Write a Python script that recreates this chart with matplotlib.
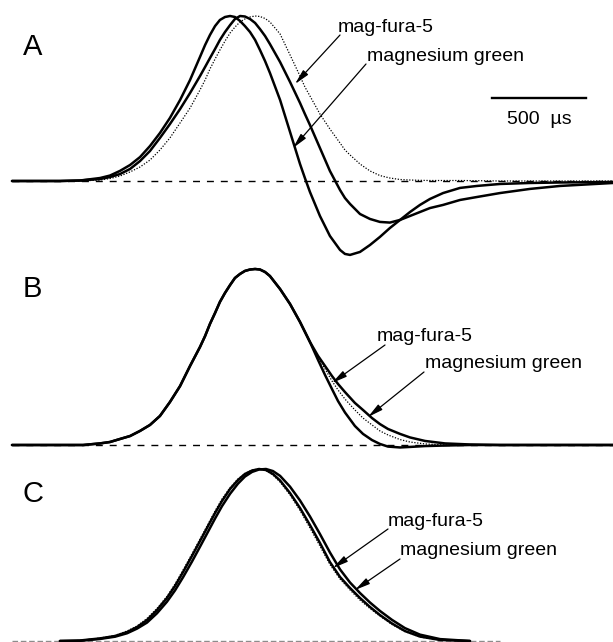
import matplotlib
matplotlib.use("Agg")
import matplotlib.pyplot as plt

plt.rcParams["font.family"] = ["Liberation Sans", "DejaVu Sans"]

# time in microseconds, signals normalised to their peak (baseline = 0)
t_a = [0, 255, 362, 468, 521, 574, 628, 681, 734, 787, 840, 894, 947, 1000,
       1027, 1053, 1080, 1106, 1133, 1160, 1186, 1213, 1239, 1266, 1293, 1319,
       1346, 1372, 1426, 1479, 1532, 1558, 1585, 1638, 1691, 1745, 1771, 1798,
       1851, 1904, 1957, 2010, 2064, 2117, 2170, 2223, 2293, 2383, 2473, 2596,
       2755, 2915, 3197]
a_early = [0, 0, .003, .018, .033, .061, .097, .145, .212, .291, .382, .491,
           .612, .752, .824, .885, .939, .976, .994, 1.0, .994, .970, .939,
           .903, .855, .794, .727, .655, .491, .297, .103, .018, -.067, -.212,
           -.333, -.418, -.442, -.448, -.430, -.388, -.339, -.285, -.236,
           -.188, -.145, -.109, -.073, -.042, -.030, -.018, -.012, -.009, -.006]
a_mid = [0, 0, .003, .012, .024, .042, .073, .121, .182, .261, .345, .436,
         .533, .636, .691, .745, .800, .855, .903, .945, .982, 1.0, .997, .982,
         .958, .921, .879, .830, .721, .600, .473, .406, .339, .200, .061,
         -.055, -.103, -.139, -.200, -.230, -.248, -.252, -.236, -.212, -.188,
         -.164, -.145, -.115, -.097, -.073, -.048, -.030, -.012]
a_dot = [0, 0, 0, .006, .015, .030, .055, .085, .127, .188, .261, .352, .442,
         .552, .612, .679, .739, .794, .848, .897, .933, .964, .982, .994, 1.0,
         .997, .985, .964, .891, .764, .636, .570, .515, .406, .315, .230,
         .188, .158, .103, .061, .033, .018, .009, .006, .004, .003, .003,
         .003, .002, 0, 0, 0, 0]

t_b_rise = [0, 255, 378, 468, 521, 574, 628, 681, 734, 787, 840, 894, 947,
            1000, 1027, 1053, 1080, 1106, 1133, 1160, 1186, 1213, 1239, 1266,
            1293, 1319, 1346, 1372, 1426, 1479, 1532, 1585]
b_rise = [0, 0, 0, .009, .017, .034, .051, .080, .114, .165, .244, .335, .449,
          .557, .619, .688, .750, .813, .864, .909, .949, .972, .989, .997,
          1.0, .997, .983, .960, .886, .801, .699, .585]
t_b_fall = [1628, 1665, 1702, 1734, 1771, 1824, 1867, 1915, 1957, 2000, 2064,
            2117, 2197, 2303, 2436, 2596, 3197]
b_inner = [.483, .398, .318, .250, .185, .108, .063, .028, .006, -.009, -.014,
           -.011, -.006, -.003, 0, 0, 0]
b_outer = [.506, .449, .392, .347, .301, .239, .199, .153, .119, .091, .063,
           .043, .023, .009, .003, 0, 0]
b_dot = [.494, .432, .364, .313, .261, .199, .153, .114, .080, .057, .031,
         .017, .006, 0, 0, 0, 0]

t_c = [255, 362, 468, 548, 612, 665, 718, 771, 824, 867, 910, 957, 1000, 1043,
       1080, 1117, 1160, 1202, 1239, 1277, 1314, 1351, 1388, 1426, 1479, 1532,
       1585, 1638, 1691, 1745, 1798, 1851, 1904, 1957, 2021, 2090, 2170, 2277,
       2436]
c_inner = [0, .003, .015, .029, .052, .081, .122, .180, .250, .320, .401, .494,
           .581, .669, .744, .814, .884, .936, .971, .991, 1.0, .994, .971,
           .933, .860, .773, .674, .570, .459, .372, .308, .250, .198, .151,
           .102, .058, .026, .006, 0]
c_outer = [0, .001, .012, .025, .045, .072, .107, .161, .228, .294, .371, .461,
           .548, .636, .712, .784, .856, .915, .956, .983, .997, 1.0, .988,
           .960, .897, .817, .724, .622, .515, .416, .340, .279, .224, .175,
           .123, .075, .037, .011, 0]
c_dot = [0, .003, .017, .032, .058, .087, .131, .189, .259, .331, .413, .506,
         .593, .680, .756, .826, .892, .942, .974, .994, 1.0, .991, .965, .924,
         .849, .759, .657, .552, .445, .360, .297, .238, .189, .145, .096, .055,
         .023, .006, 0]

scale_us = 500
labels = ["mag-fura-5", "magnesium green"]

W, H = 613, 642
K = 500 / 94.0  # microseconds per pixel

fig = plt.figure(figsize=(W / 100, H / 100), dpi=100)


def ff(x, y):
    return (x / W, 1 - y / H)


def panel(top, bottom, base, peak):
    ax = fig.add_axes([0, 1 - bottom / H, 1, (bottom - top) / H])
    amp = base - peak
    ax.set_xlim(-12 * K, (W - 12) * K)
    ax.set_ylim((base - bottom) / amp, (base - top) / amp)
    ax.axis("off")
    return ax


solid = dict(color="black", lw=1.8, solid_capstyle="round")
dotted = dict(color="black", lw=0.9, linestyle=(0, (1, 1.3)))
dashed = dict(color="black", lw=1.0, linestyle=(0, (5, 5)))

# A
ax_a = panel(0, 260, 181, 16)
ax_a.plot([0, t_a[-1]], [0, 0], **dashed)
ax_a.plot(t_a, a_dot, **dotted)
ax_a.plot(t_a, a_mid, **solid)
ax_a.plot(t_a, a_early, **solid)
t0 = (492 - 12) * K
ax_a.plot([t0, t0 + scale_us], [0.503, 0.503], color="black", lw=1.7)
ax_a.text(t0 + scale_us / 2, 0.345, "500  \u00b5s", ha="center", va="baseline",
          fontsize=14)

# B
ax_b = panel(260, 450, 445, 269)
ax_b.plot([0, 3197], [0, 0], **dashed)
ax_b.plot(t_b_rise + t_b_fall, b_rise + b_dot, **dotted)
ax_b.plot(t_b_rise + t_b_fall, b_rise + b_inner, **solid)
ax_b.plot(t_b_rise + t_b_fall, b_rise + b_outer, **solid)

# C
ax_c = panel(450, 642, 641, 469)
ax_c.plot([0, (500 - 12) * K], [0, 0], color="0.55", lw=1.0,
          linestyle=(0, (4, 2)))
ax_c.plot(t_c, c_dot, **dotted)
ax_c.plot(t_c, c_inner, **solid)
ax_c.plot(t_c, c_outer, **solid)

# panel letters
for letter, y in [("A", 55), ("B", 297), ("C", 502)]:
    fig.text(*ff(23, y), letter, fontsize=21, va="baseline", ha="left")

# labels with arrows: (text x, baseline y, tail, tip)
notes = [
    (labels[0], 338, 32, (340, 35), (295, 84)),
    (labels[1], 367, 61, (366, 64), (293, 148)),
    (labels[0], 377, 341, (385, 345), (332, 383)),
    (labels[1], 425, 368, (424, 372), (368, 417)),
    (labels[0], 388, 526, (388, 529), (333, 568)),
    (labels[1], 400, 555, (400, 559), (355, 590)),
]
arrow = dict(arrowstyle="-|>,head_length=0.9,head_width=0.2",
             color="black", lw=0.9, shrinkA=0, shrinkB=0, mutation_scale=10)
for text, tx, ty, tail, tip in notes:
    fig.text(*ff(tx, ty), text, fontsize=14, va="baseline", ha="left")
    ax_a.annotate("", xy=ff(*tip), xytext=ff(*tail), xycoords="figure fraction",
                  textcoords="figure fraction", arrowprops=arrow,
                  annotation_clip=False)

fig.savefig("out.png", dpi=100)
